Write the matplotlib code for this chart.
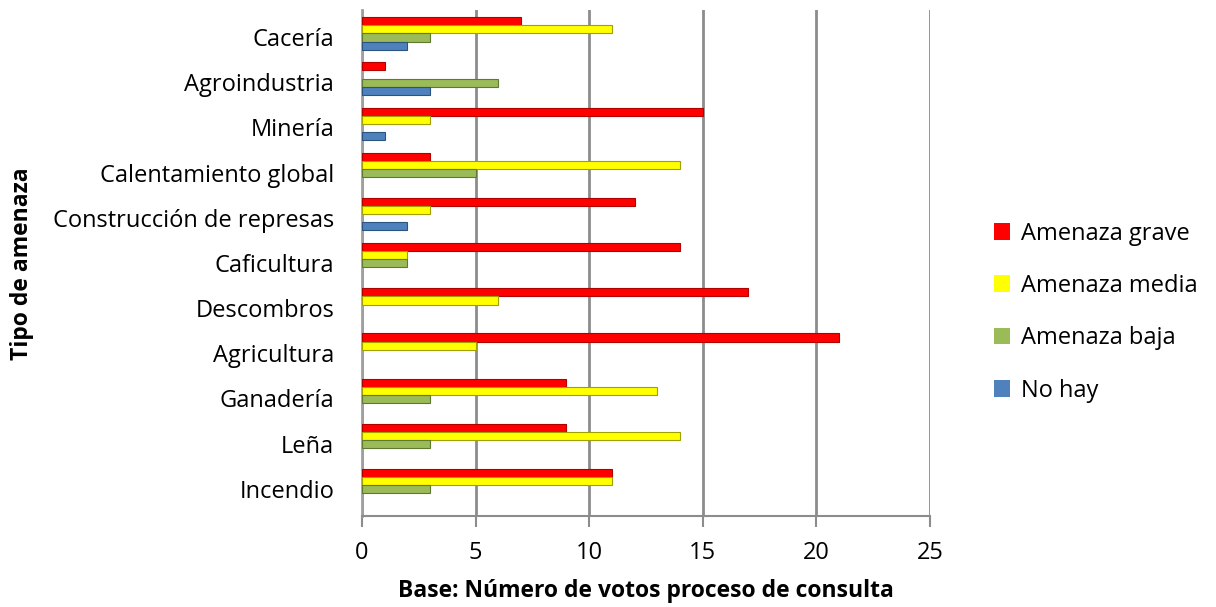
import numpy as np
import matplotlib.pyplot as plt

plt.rcParams['font.family'] = ['Open Sans', 'DejaVu Sans']

categorias = ['Cacería', 'Agroindustria', 'Minería', 'Calentamiento global',
              'Construcción de represas', 'Caficultura', 'Descombros',
              'Agricultura', 'Ganadería', 'Leña', 'Incendio']
grave = [7, 1, 15, 3, 12, 14, 17, 21, 9, 9, 11]
media = [11, 0, 3, 14, 3, 2, 6, 5, 13, 14, 11]
baja = [3, 6, 0, 5, 0, 2, 0, 0, 3, 3, 3]
no_hay = [2, 3, 1, 0, 2, 0, 0, 0, 0, 0, 0]

series = [('Amenaza grave', grave, '#ff0000', '#b00000'),
          ('Amenaza media', media, '#ffff00', '#a0a000'),
          ('Amenaza baja', baja, '#9bbb59', '#5f7a30'),
          ('No hay', no_hay, '#4f81bd', '#2c5480')]

fig = plt.figure(figsize=(12.16, 6.07), dpi=100)
ax = fig.add_axes([0.2977, 0.15, 0.467, 0.8336])

y = np.arange(len(categorias))
h = 0.18
offsets = [-1.5, -0.5, 0.5, 1.5]
for (name, vals, col, edge), off in zip(series, offsets):
    vals = np.array(vals, dtype=float)
    # zero values get no edge so nothing shows
    edges = [edge if v > 0 else 'none' for v in vals]
    ax.barh(y + off * h - 0.08, vals, height=h, color=col, edgecolor=edges,
            linewidth=0.8, label=name, zorder=3)

ax.set_xlim(0, 25)
ax.set_ylim(len(categorias) - 0.4, -0.6)
ax.set_xticks([0, 5, 10, 15, 20, 25])
ax.set_yticks(y)
ax.set_yticklabels(categorias)
ax.tick_params(axis='y', length=0, pad=20, labelsize=17)
ax.tick_params(axis='x', length=8, width=1.5, color='#8c8c8c', pad=10, labelsize=17)
ax.grid(axis='x', color='#8c8c8c', linewidth=2, zorder=0)
for s in ['top', 'right']:
    ax.spines[s].set_visible(False)
ax.spines['left'].set_color('#a0a0a0')
ax.spines['left'].set_linewidth(2)
ax.spines['bottom'].set_color('#8c8c8c')
ax.spines['bottom'].set_linewidth(1.5)

ax.set_xlabel('Base: Número de votos proceso de consulta', fontsize=16.5,
              fontweight='bold', labelpad=10)
fig.text(0.018, 0.565, 'Tipo de amenaza', rotation=90, fontsize=16.5,
         fontweight='bold', ha='center', va='center')

leg = ax.legend(loc='center left', bbox_to_anchor=(1.075, 0.403), frameon=False,
                fontsize=17, handlelength=0.7, handleheight=0.7,
                labelspacing=1.2, handletextpad=0.45)
for hnd in leg.legend_handles:
    hnd.set_edgecolor('none')

fig.savefig('out.png', dpi=100)
